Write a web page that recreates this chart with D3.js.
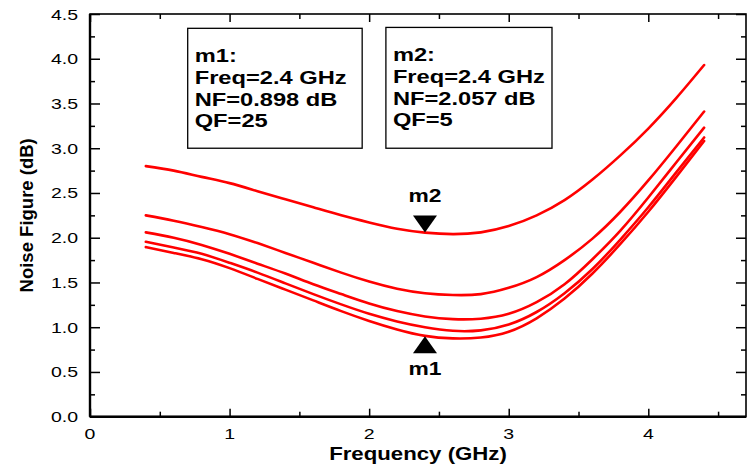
<!DOCTYPE html>
<html>
<head>
<meta charset="utf-8">
<script src="https://cdn.jsdelivr.net/npm/d3@7"></script>
<style>
  html, body { margin: 0; padding: 0; background: #fff; }
  svg { display: block; }
  text { font-family: "Liberation Sans", Arial, sans-serif; fill: #000; }
</style>
</head>
<body>
<svg id="chart" width="749" height="466"></svg>
<script>
// ---- data ----
const freq = [0.4, 0.6, 0.8, 1.0, 1.2, 1.4, 1.6, 1.8, 2.0, 2.2, 2.4, 2.6, 2.8, 3.0, 3.2, 3.4, 3.6, 3.8, 4.0, 4.2, 4.4];
const nfQF5  = [2.80, 2.75, 2.68, 2.61, 2.52, 2.43, 2.34, 2.25, 2.17, 2.10, 2.057, 2.04, 2.06, 2.13, 2.25, 2.42, 2.65, 2.92, 3.22, 3.56, 3.93];
const nfQF10 = [2.25, 2.19, 2.12, 2.04, 1.94, 1.83, 1.72, 1.61, 1.51, 1.43, 1.38, 1.36, 1.37, 1.44, 1.56, 1.75, 1.99, 2.29, 2.64, 3.02, 3.41];
const nfQF15 = [2.06, 2.00, 1.92, 1.82, 1.71, 1.60, 1.48, 1.37, 1.265, 1.18, 1.12, 1.09, 1.095, 1.15, 1.28, 1.48, 1.76, 2.08, 2.45, 2.84, 3.23];
const nfQF20 = [1.955, 1.89, 1.82, 1.72, 1.61, 1.49, 1.37, 1.255, 1.15, 1.065, 1.0, 0.96, 0.965, 1.03, 1.17, 1.38, 1.65, 1.98, 2.34, 2.73, 3.12];
const nfQF25 = [1.895, 1.83, 1.76, 1.66, 1.54, 1.42, 1.30, 1.18, 1.07, 0.975, 0.903, 0.875, 0.885, 0.95, 1.10, 1.32, 1.60, 1.93, 2.29, 2.68, 3.08];
const seriesList = [nfQF5, nfQF10, nfQF15, nfQF20, nfQF25];

const xTickValues = [0, 1, 2, 3, 4];
const yTickValues = [0, 0.5, 1.0, 1.5, 2.0, 2.5, 3.0, 3.5, 4.0, 4.5];

const markerM1 = { name: "m1", freq: 2.4, nf: 0.898 };
const markerM2 = { name: "m2", freq: 2.4, nf: 2.057 };
const box1Lines = ["m1:", "Freq=2.4 GHz", "NF=0.898 dB", "QF=25"];
const box2Lines = ["m2:", "Freq=2.4 GHz", "NF=2.057 dB", "QF=5"];

const xTitle = "Frequency (GHz)";
const yTitle = "Noise Figure (dB)";

// ---- layout ----
const W = 749, H = 466;
const m = { left: 90, top: 14, right: 3, bottom: 49.3 };
const pw = W - m.left - m.right, ph = H - m.top - m.bottom;

const svg = d3.select("#chart");
const x = d3.scaleLinear().domain([0, 4.7]).range([m.left, m.left + pw]);
const y = d3.scaleLinear().domain([0, 4.5]).range([m.top + ph, m.top]);

// ---- curves ----
const line = d3.line()
  .x((d, i) => x(freq[i]))
  .y(d => y(d))
  .curve(d3.curveNatural);

svg.append("g").selectAll("path").data(seriesList).join("path")
  .attr("d", d => line(d))
  .attr("fill", "none")
  .attr("stroke", "#ff0000")
  .attr("stroke-width", 2.6)
  .attr("stroke-linecap", "round");

// ---- axes (ticks inward) ----
const axCol = "#000";
const xMajor = d3.range(0, 4.71, 1);
const xMinor = d3.range(0.5, 4.71, 1);
const yMajor = d3.range(0, 4.51, 0.5);
const yMinor = d3.range(0.25, 4.5, 0.5);

function tickGroup(axisFn, transform, values, size) {
  svg.append("g").attr("transform", transform)
    .call(axisFn.tickValues(values).tickSize(size).tickFormat(""))
    .call(g => g.select(".domain").remove())
    .call(g => g.selectAll("line").attr("stroke", axCol).attr("stroke-width", 1.5));
}
tickGroup(d3.axisBottom(x), `translate(0,${y(0)})`, xMajor, -8);
tickGroup(d3.axisBottom(x), `translate(0,${y(0)})`, xMinor, -5);
tickGroup(d3.axisTop(x), `translate(0,${y(4.5)})`, xMajor, -8);
tickGroup(d3.axisTop(x), `translate(0,${y(4.5)})`, xMinor, -5);
tickGroup(d3.axisLeft(y), `translate(${x(0)},0)`, yMajor, -10);
tickGroup(d3.axisLeft(y), `translate(${x(0)},0)`, yMinor, -5);
tickGroup(d3.axisRight(y), `translate(${x(4.7)},0)`, yMajor, -10);
tickGroup(d3.axisRight(y), `translate(${x(4.7)},0)`, yMinor, -5);

// frame
svg.append("rect")
  .attr("x", x(0)).attr("y", y(4.5))
  .attr("width", x(4.7) - x(0)).attr("height", y(0) - y(4.5))
  .attr("fill", "none").attr("stroke", axCol).attr("stroke-width", 1.6);
svg.append("line").attr("x1", x(0)).attr("x2", x(0)).attr("y1", y(4.5)).attr("y2", y(0))
  .attr("stroke", axCol).attr("stroke-width", 2.4);
svg.append("line").attr("x1", x(0)).attr("x2", x(4.7)).attr("y1", y(0)).attr("y2", y(0))
  .attr("stroke", axCol).attr("stroke-width", 2.4);

// ---- tick labels ----
function stretchedText(g, tx, ty, str, size, sx, anchor, weight) {
  return g.append("text")
    .attr("transform", `translate(${tx},${ty}) scale(${sx},1)`)
    .attr("text-anchor", anchor)
    .attr("font-size", size)
    .attr("font-weight", weight || "normal")
    .text(str);
}
const labels = svg.append("g");
yTickValues.forEach(v => {
  stretchedText(labels, x(0) - 12, y(v) + 5.5, d3.format(".1f")(v), 15, 1.3, "end");
});
xTickValues.forEach(v => {
  stretchedText(labels, x(v), y(0) + 22, String(v), 15, 1.3, "middle");
});

// ---- axis titles ----
stretchedText(svg, (x(0) + x(4.7)) / 2, 460, xTitle, 19, 1.17, "middle", "bold");
svg.append("text")
  .attr("transform", `translate(33,${(y(0) + y(4.5)) / 2}) rotate(-90)`)
  .attr("text-anchor", "middle")
  .attr("font-size", 18.5)
  .attr("font-weight", "bold")
  .text(yTitle);

// ---- markers ----
const tri = 12, triH = 17;
const m2x = x(markerM2.freq), m2y = y(markerM2.nf);
svg.append("path")
  .attr("d", `M${m2x - tri},${m2y - triH} L${m2x + tri},${m2y - triH} L${m2x},${m2y} Z`)
  .attr("fill", "#000");
stretchedText(svg, m2x, m2y - 31, markerM2.name, 18, 1.27, "middle", "bold");
const m1x = x(markerM1.freq), m1y = y(markerM1.nf);
svg.append("path")
  .attr("d", `M${m1x - tri},${m1y + triH} L${m1x + tri},${m1y + triH} L${m1x},${m1y} Z`)
  .attr("fill", "#000");
stretchedText(svg, m1x, m1y + 39, markerM1.name, 18, 1.27, "middle", "bold");

// ---- annotation boxes ----
function annoBox(x0, x1, y0, y1, lines) {
  const g = svg.append("g");
  g.append("rect")
    .attr("x", x(x0)).attr("y", y(y0))
    .attr("width", x(x1) - x(x0)).attr("height", y(y1) - y(y0))
    .attr("fill", "#fff").attr("stroke", "#000").attr("stroke-width", 1.3);
  lines.forEach((t, i) => {
    stretchedText(g, x(x0) + 7, y(y0) + 34 + i * 21.6, t, 18.5, 1.28, "start", "bold");
  });
}
annoBox(0.70, 1.95, 4.34, 3.0, box1Lines);
annoBox(2.12, 3.31, 4.35, 3.0, box2Lines);
</script>
</body>
</html>
